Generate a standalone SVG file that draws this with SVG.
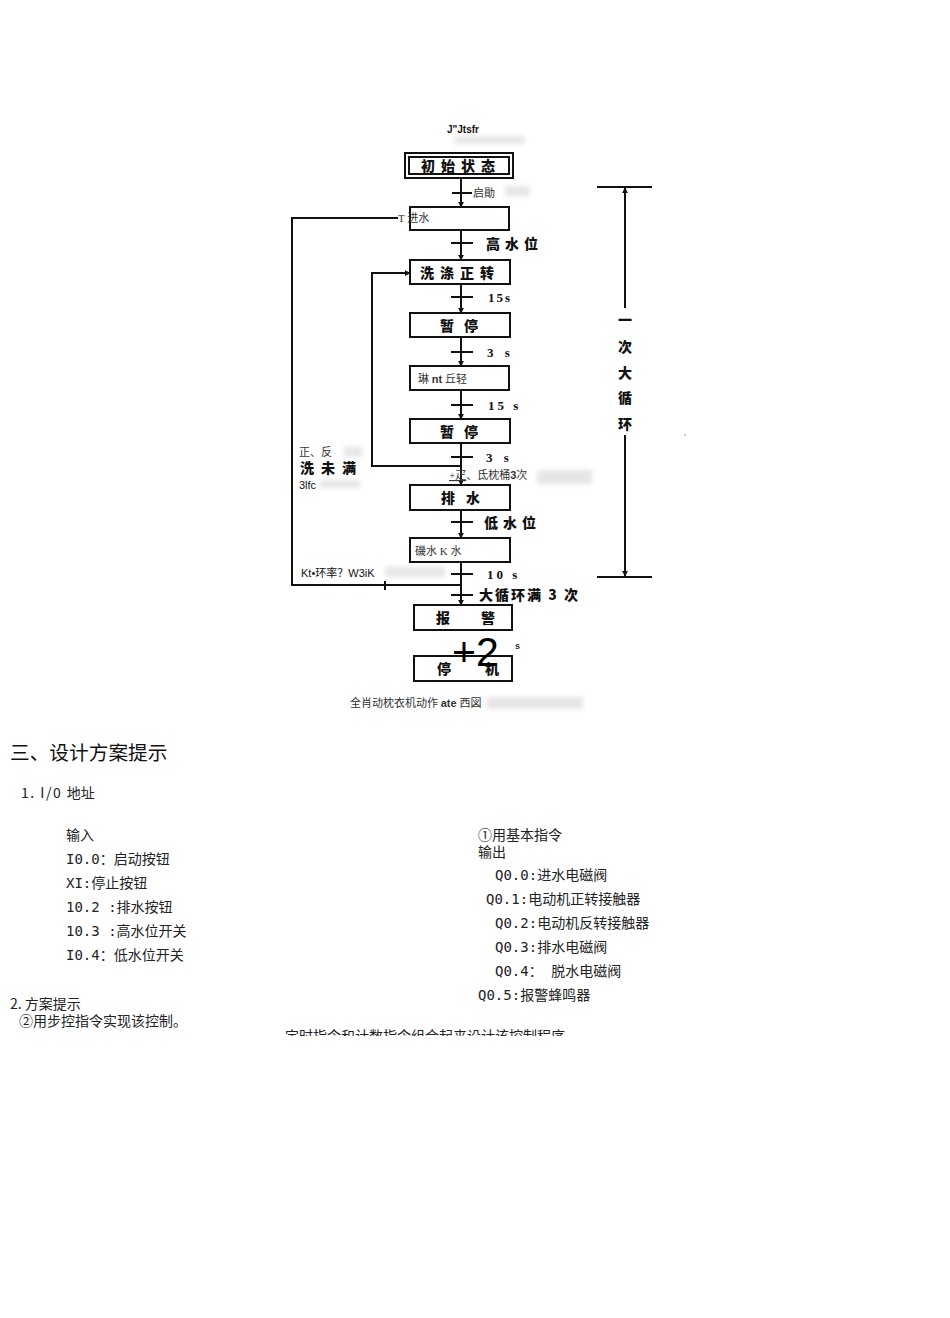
<svg xmlns="http://www.w3.org/2000/svg" width="950" height="1318" viewBox="0 0 950 1318">
<style>
.bx{fill:#fff;stroke:#111;stroke-width:2}
.ln{fill:none;stroke:#111;stroke-width:2}
.tk{stroke:#111;stroke-width:2}
.bl{font-family:"Noto Sans CJK SC",sans-serif;font-weight:900;font-size:14px;fill:#111}
.tl{font-family:"Liberation Serif","Noto Sans CJK SC",serif;font-weight:bold;font-size:13px;fill:#111}
.sm{font-family:"Liberation Serif","Noto Sans CJK SC",serif;font-size:11px;fill:#333}
.sa{font-family:"Liberation Sans","Noto Sans CJK SC",sans-serif;font-size:11px;fill:#111}
.tx{font-family:"DejaVu Sans Mono","Noto Sans CJK SC",monospace;font-size:14px;fill:#222}
.ns{font-family:"Noto Sans CJK SC",sans-serif;font-size:14px;fill:#222}
.sm2{fill:#aaa;filter:url(#blur);opacity:.3}
</style>
<defs>
<marker id="ar" viewBox="0 0 8 8" refX="7" refY="4" markerWidth="6" markerHeight="6" orient="auto" markerUnits="userSpaceOnUse"><path d="M0,0 L8,4 L0,8 z" fill="#111"/></marker>
<filter id="blur" x="-20%" y="-50%" width="140%" height="200%"><feGaussianBlur stdDeviation="2.5"/></filter>
<clipPath id="cut"><rect x="0" y="0" width="950" height="1036"/></clipPath>
</defs>
<rect width="950" height="1318" fill="#fff"/>

<g id="smudges">
<rect class="sm2" x="455" y="136" width="70" height="8"/>
<rect class="sm2" x="505" y="186" width="25" height="10"/>
<rect class="sm2" x="440" y="214" width="32" height="10"/>
<rect class="sm2" x="466" y="372" width="34" height="12"/>
<rect class="sm2" x="537" y="470" width="55" height="14"/>
<rect class="sm2" x="344" y="447" width="18" height="10"/>
<rect class="sm2" x="320" y="480" width="40" height="8"/>
<rect class="sm2" x="466" y="545" width="40" height="10"/>
<rect class="sm2" x="385" y="567" width="60" height="10"/>
<rect class="sm2" x="487" y="697" width="96" height="12"/>
</g>

<g id="connectors">
<line class="ln" x1="461" y1="178" x2="461" y2="207" marker-end="url(#ar)"/>
<line class="tk" x1="452" y1="193" x2="472" y2="193"/>
<line class="ln" x1="461" y1="230" x2="461" y2="260" marker-end="url(#ar)"/>
<line class="tk" x1="451" y1="243" x2="473" y2="243"/>
<line class="ln" x1="461" y1="284" x2="461" y2="313" marker-end="url(#ar)"/>
<line class="tk" x1="451" y1="297" x2="473" y2="297"/>
<line class="ln" x1="461" y1="337" x2="461" y2="366" marker-end="url(#ar)"/>
<line class="tk" x1="451" y1="352" x2="473" y2="352"/>
<line class="ln" x1="461" y1="390" x2="461" y2="419" marker-end="url(#ar)"/>
<line class="tk" x1="451" y1="405" x2="473" y2="405"/>
<line class="ln" x1="461" y1="443" x2="461" y2="485" marker-end="url(#ar)"/>
<line class="tk" x1="451" y1="457" x2="473" y2="457"/>
<polyline class="ln" points="461,466 372,466 372,273 410,273" marker-end="url(#ar)"/>
<line class="ln" x1="461" y1="510" x2="461" y2="538" marker-end="url(#ar)"/>
<line class="tk" x1="451" y1="522" x2="473" y2="522"/>
<line class="ln" x1="461" y1="562" x2="461" y2="605" marker-end="url(#ar)"/>
<line class="tk" x1="451" y1="574" x2="473" y2="574"/>
<line class="tk" x1="451" y1="595" x2="473" y2="595"/>
<polyline class="ln" points="461,585 292,585 292,218 398,218"/>
<line class="tk" x1="385" y1="581" x2="385" y2="590"/>
<line class="tk" x1="597" y1="187" x2="652" y2="187"/>
<line class="tk" x1="625" y1="308" x2="625" y2="188" marker-end="url(#ar)"/>
<line class="tk" x1="625" y1="435" x2="625" y2="576" marker-end="url(#ar)"/>
<line class="tk" x1="597" y1="577" x2="652" y2="577"/>
</g>

<g id="n-init">
<rect class="bx" x="405" y="153" width="108" height="25"/>
<rect x="409" y="157" width="100" height="17" fill="none" stroke="#111" stroke-width="2"/>
<text class="bl" x="421" y="171" letter-spacing="6">初始状态</text>
</g>
<g id="n-inwater">
<rect class="bx" x="410" y="207" width="99" height="23"/>
<text class="sm" x="398" y="222">T 进水</text>
</g>
<g id="n-wash-fwd">
<rect class="bx" x="410" y="260" width="100" height="24"/>
<text class="bl" x="420" y="278" letter-spacing="6">洗涤正转</text>
</g>
<g id="n-pause1">
<rect class="bx" x="410" y="313" width="100" height="24"/>
<text class="bl" x="440" y="331" letter-spacing="10">暂停</text>
</g>
<g id="n-wash-rev">
<rect class="bx" x="410" y="366" width="99" height="24"/>
<text class="sm" x="418" y="383" font-size="12">琳 <tspan font-family="Liberation Sans" font-weight="bold">nt</tspan> 丘轻</text>
</g>
<g id="n-pause2">
<rect class="bx" x="410" y="419" width="100" height="24"/>
<text class="bl" x="440" y="437" letter-spacing="10">暂停</text>
</g>
<g id="n-drain">
<rect class="bx" x="410" y="485" width="100" height="25"/>
<text class="bl" x="441" y="503" letter-spacing="11">排水</text>
</g>
<g id="n-spin">
<rect class="bx" x="410" y="538" width="100" height="24"/>
<text class="sm" x="415" y="555" font-size="12">磯水 K 水</text>
</g>
<g id="n-alarm">
<rect class="bx" x="414" y="605" width="98" height="25"/>
<text class="bl" x="436" y="623" letter-spacing="31">报警</text>
</g>
<g id="n-stop">
<rect class="bx" x="414" y="656" width="98" height="25"/>
<text class="bl" x="437" y="674" letter-spacing="34">停机</text>
</g>

<g id="labels">
<text x="447" y="133" font-family="Liberation Sans,sans-serif" font-weight="bold" font-size="10" fill="#111">J"Jtsfr</text>
<text class="sm" x="473" y="197">启勛</text>
<text class="bl" x="486" y="249" letter-spacing="5">高水位</text>
<text class="tl" x="488" y="302" letter-spacing="2">15s</text>
<text class="tl" x="487" y="357" letter-spacing="4">3 s</text>
<text class="tl" x="488" y="410" letter-spacing="3">15 s</text>
<text class="tl" x="486" y="462" letter-spacing="4">3 s</text>
<text class="sm" x="449" y="479" fill="#222"><tspan text-decoration="underline">+疋</tspan>、氐枕桶<tspan font-family="Liberation Sans" font-weight="bold">3</tspan>次</text>
<text class="bl" x="484" y="528" letter-spacing="5">低水位</text>
<text class="tl" x="487" y="579" letter-spacing="3">10 s</text>
<text class="bl" x="479" y="600" letter-spacing="2">大循环满 3 次</text>
<text x="452" y="666" font-family="Liberation Sans,sans-serif" font-size="41" fill="#000">+2</text>
<text x="515" y="649" font-family="Liberation Sans,sans-serif" font-weight="bold" font-size="9" fill="#333">s</text>
<text class="sm" x="299" y="456" font-size="12" fill="#444">正、反</text>
<text class="bl" x="300" y="473" font-size="13" letter-spacing="7">洗未满</text>
<text class="sa" x="299" y="489">3lfc</text>
<text class="sa" x="301" y="577">Kt•环率？W3iK</text>
<text class="sm" x="350" y="707" fill="#333">全肖动枕衣机动作 <tspan font-family="Liberation Sans" font-weight="bold">ate</tspan> 西図</text>
<g class="bl" font-size="12" text-anchor="middle">
<text x="625" y="325">一</text>
<text x="625" y="352">次</text>
<text x="625" y="378">大</text>
<text x="625" y="403">循</text>
<text x="625" y="429">环</text>
</g>
<circle cx="685" cy="435" r="0.8" fill="#888"/>
</g>

<g id="text-section">
<text x="10" y="760" font-family="Noto Sans CJK SC,sans-serif" font-size="19.7" fill="#111">三、设计方案提示</text>
<text class="ns" x="21" y="798" font-size="13"><tspan letter-spacing="1.5">1. I/0 </tspan>地址</text>
<text class="tx" x="66" y="840">输入</text>
<text class="tx" x="66" y="864">I0.0：启动按钮</text>
<text class="tx" x="66" y="888">XI:停止按钮</text>
<text class="tx" x="66" y="912">10.2 :排水按钮</text>
<text class="tx" x="66" y="936">10.3 :高水位开关</text>
<text class="tx" x="66" y="960">I0.4：低水位开关</text>
<text class="ns" x="10" y="1009">2. 方案提示</text>
<text class="tx" x="19" y="1026">②用步控指令实现该控制。</text>
<text class="tx" x="478" y="840">①用基本指令</text>
<text class="tx" x="478" y="857">输出</text>
<text class="tx" x="495" y="880">Q0.0:进水电磁阀</text>
<text class="tx" x="486" y="904">Q0.1:电动机正转接触器</text>
<text class="tx" x="495" y="928">Q0.2:电动机反转接触器</text>
<text class="tx" x="495" y="952">Q0.3:排水电磁阀</text>
<text class="tx" x="495" y="976">Q0.4： 脱水电磁阀</text>
<text class="tx" x="478" y="1000">Q0.5:报警蜂鸣器</text>
<text class="tx" x="285" y="1041" clip-path="url(#cut)">定时指令和计数指令组合起来设计该控制程序</text>
</g>
</svg>
